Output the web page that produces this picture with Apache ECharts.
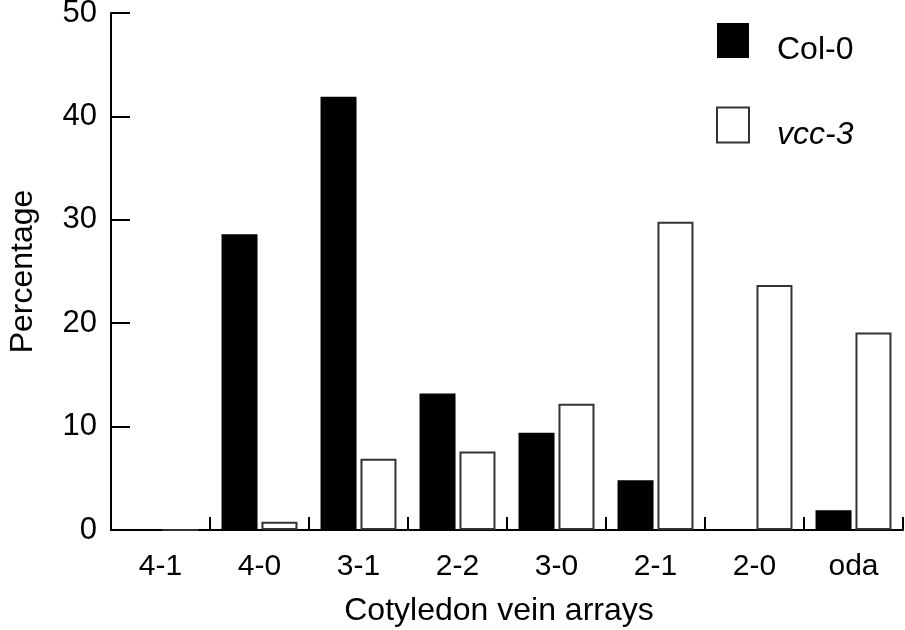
<!DOCTYPE html>
<html><head><meta charset="utf-8">
<script src="https://cdn.jsdelivr.net/npm/echarts@6/dist/echarts.min.js"></script>
<style>html,body{margin:0;padding:0;background:#fff}#c{width:905px;height:630px}</style>
</head><body><div id="c"></div>
<script>
const categories = ['4-1', '4-0', '3-1', '2-2', '3-0', '2-1', '2-0', 'oda'];
const col0 = [0, 28.6, 41.9, 13.2, 9.4, 4.8, 0, 1.9];
const vcc3 = [0, 0.8, 6.9, 7.6, 12.2, 29.8, 23.7, 19.1];
const yTicks = [0, 10, 20, 30, 40, 50];

const FONT = '"Liberation Sans", Arial, sans-serif';
const chart = echarts.init(document.getElementById('c'), null, {renderer: 'canvas'});
chart.setOption({
  animation: false,
  grid: {left: 111, right: 2, top: 13, bottom: 100, containLabel: false, outerBoundsMode: 'none'},
  legend: {
    orient: 'vertical', left: 716, top: 23, padding: 0, itemWidth: 32, itemHeight: 35, itemGap: 40,
    icon: 'rect',
    formatter: n => n === 'vcc-3' ? '{i|' + n + '}' : '{n|' + n + '}',
    textStyle: {fontFamily: FONT, fontSize: 32, color: '#000', padding: [20, 0, 0, 23],
      rich: {i: {fontStyle: 'italic', fontFamily: FONT, fontSize: 32, color: '#000'},
             n: {fontFamily: FONT, fontSize: 32, color: '#000'}}}
  },
  xAxis: {
    type: 'category', data: categories, boundaryGap: true,
    name: 'Cotyledon vein arrays', nameLocation: 'middle', nameGap: 65, nameMoveOverlap: false,
    nameTextStyle: {fontFamily: FONT, fontSize: 32, color: '#000', verticalAlign: 'top', padding: [0, 16, 0, 0]},
    axisLine: {lineStyle: {color: '#000', width: 2}},
    axisTick: {show: true, inside: true, length: 13, interval: 0, lineStyle: {color: '#000', width: 2}},
    axisLabel: {fontFamily: FONT, fontSize: 30, color: '#000', margin: 22, interval: 0}
  },
  yAxis: {
    type: 'value', min: 0, max: 50, interval: 10,
    name: 'Percentage', nameLocation: 'middle', nameGap: 72, nameMoveOverlap: false,
    nameTextStyle: {fontFamily: FONT, fontSize: 32, color: '#000', verticalAlign: 'bottom'},
    axisLine: {show: true, lineStyle: {color: '#000', width: 2}},
    axisTick: {show: true, inside: true, length: 19, lineStyle: {color: '#000', width: 2}},
    axisLabel: {fontFamily: FONT, fontSize: 31, color: '#000', margin: 14,
      formatter: v => yTicks.includes(v) ? String(v) : ''},
    splitLine: {show: false}
  },
  series: [
    {name: 'Col-0', type: 'bar', data: col0, barWidth: 36, barGap: '11%',
     itemStyle: {color: '#000'}},
    {name: 'vcc-3', type: 'bar', data: vcc3, barWidth: 36,
     itemStyle: {color: '#fff', borderColor: '#333', borderWidth: 2}}
  ]
});
</script></body></html>
